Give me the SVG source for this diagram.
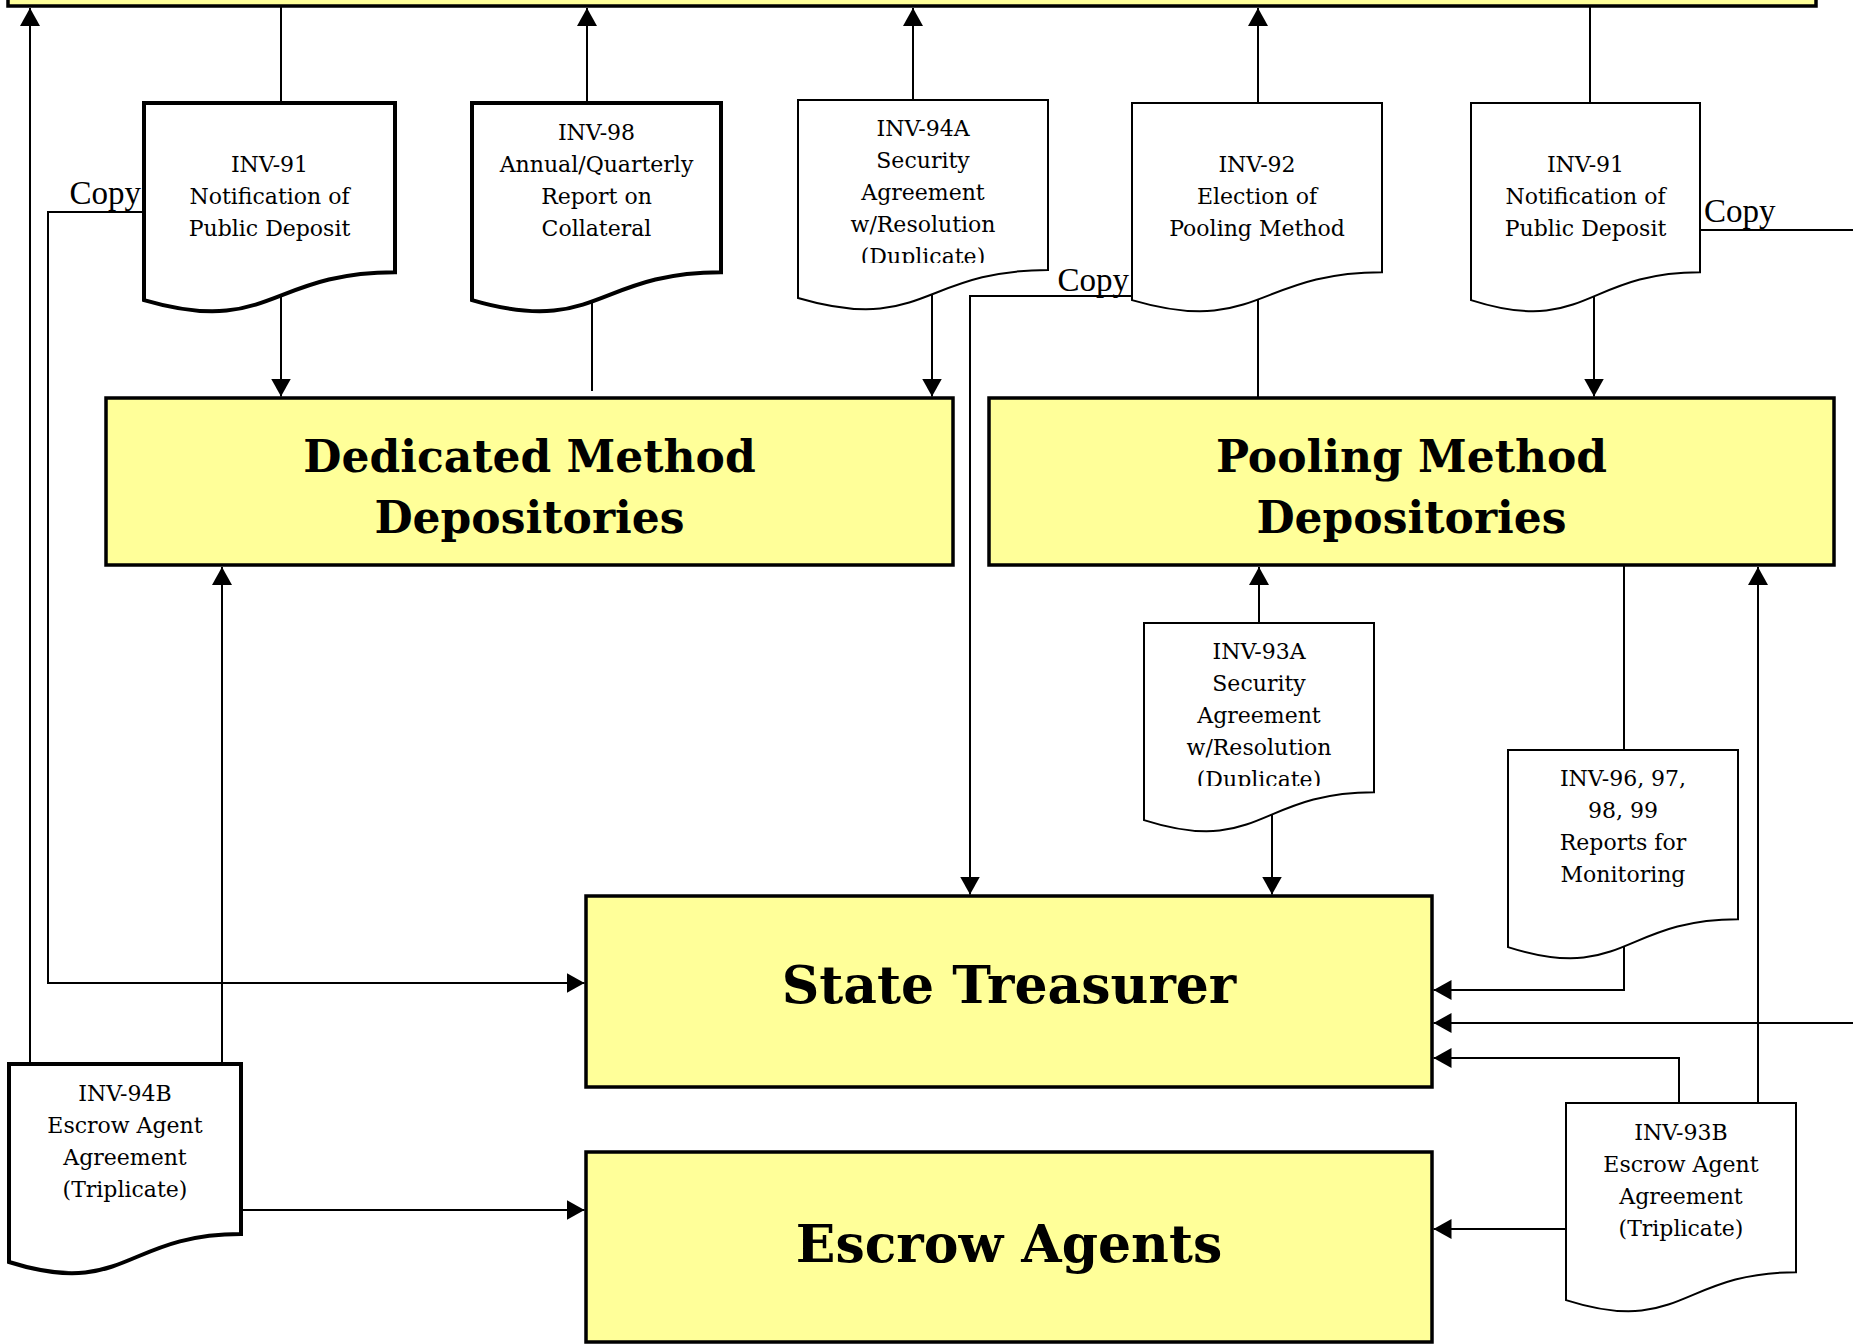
<svg xmlns="http://www.w3.org/2000/svg" width="1853" height="1344" viewBox="0 0 1853 1344">
<style>
.box{fill:#FFFF99;stroke:#000;stroke-width:3.5}
.doc{fill:#fff;stroke:#000;stroke-width:2;stroke-linejoin:miter}
.doc.thick{stroke-width:4}
.dt{font-family:"DejaVu Serif",serif;font-size:22px;text-anchor:middle;fill:#000}
.bt{font-family:"DejaVu Serif",serif;font-weight:bold;font-size:44px;text-anchor:middle;fill:#000}
.bt.big{font-size:52px}
.cp{font-family:"Liberation Serif",serif;font-size:33px;fill:#000}
.ln{fill:none;stroke:#000;stroke-width:2}
.ar{marker-end:url(#ah)}
</style>
<defs>
<marker id="ah" viewBox="0 0 18 20" refX="18" refY="10" markerWidth="18" markerHeight="20" markerUnits="userSpaceOnUse" orient="auto">
<path d="M0,0 L18,10 L0,20 Z" fill="#000"/>
</marker>
<clipPath id="clipA"><rect x="790" y="90" width="270" height="173"/></clipPath>
<clipPath id="clipB"><rect x="1136" y="613" width="246" height="173"/></clipPath>
</defs>
<rect width="1853" height="1344" fill="#fff"/>

<g id="top-box"><rect class="box" x="8" y="-60" width="1808" height="66"/></g>
<g id="dedicated"><rect class="box" x="106" y="398" width="847" height="167"/>
<text class="bt" x="529.5" y="472">Dedicated Method</text>
<text class="bt" x="529.5" y="533">Depositories</text></g>
<g id="pooling"><rect class="box" x="989" y="398" width="845" height="167"/>
<text class="bt" x="1411.5" y="472">Pooling Method</text>
<text class="bt" x="1411.5" y="533">Depositories</text></g>
<g id="treasurer"><rect class="box" x="586" y="896" width="846" height="191"/>
<text class="bt big" x="1009" y="1003">State Treasurer</text></g>
<g id="escrow"><rect class="box" x="586" y="1152" width="846" height="190"/>
<text class="bt big" x="1009" y="1262">Escrow Agents</text></g>

<g id="connectors">
<path class="ln ar" d="M30,1064 V8"/>
<path class="ln ar" d="M144,212 H48 V983 H584.5"/>
<path class="ln" d="M281,103 V6"/>
<path class="ln ar" d="M281,290 V396.5"/>
<path class="ln ar" d="M587,103 V8"/>
<path class="ln" d="M592,290 V391"/>
<path class="ln ar" d="M913,100 V8"/>
<path class="ln ar" d="M932,290 V396.5"/>
<path class="ln ar" d="M1132,296 H970 V894.5"/>
<path class="ln ar" d="M1258,103 V8"/>
<path class="ln" d="M1258,290 V398"/>
<path class="ln" d="M1590,103 V6"/>
<path class="ln ar" d="M1594,290 V396.5"/>
<path class="ln" d="M1700,230 H1853"/>
<path class="ln ar" d="M1259,623 V567"/>
<path class="ln ar" d="M1272,800 V894.5"/>
<path class="ln" d="M1624,750 V565"/>
<path class="ln ar" d="M1624,900 V990 H1433.5"/>
<path class="ln ar" d="M1853,1023 H1433.5"/>
<path class="ln ar" d="M1679,1103 V1058 H1433.5"/>
<path class="ln ar" d="M1758,1103 V567"/>
<path class="ln ar" d="M1566,1229 H1433.5"/>
<path class="ln ar" d="M222,1064 V567"/>
<path class="ln ar" d="M241,1210 H584.5"/>
<text class="cp" x="141" y="204" text-anchor="end">Copy</text>
<text class="cp" x="1129" y="291" text-anchor="end">Copy</text>
<text class="cp" x="1704" y="222">Copy</text>
</g>

<g id="inv91-left"><path class="doc thick" d="M144,103 H395 V272.2 C269.5,272.2 269.5,336.7 144,300.1 Z"/>
<text class="dt" x="269.5" y="172">INV-91</text>
<text class="dt" x="269.5" y="204">Notification of</text>
<text class="dt" x="269.5" y="236">Public Deposit</text></g>

<g id="inv98"><path class="doc thick" d="M472,103 H721 V272.2 C596.5,272.2 596.5,336.7 472,300.1 Z"/>
<text class="dt" x="596.5" y="140">INV-98</text>
<text class="dt" x="596.5" y="172">Annual/Quarterly</text>
<text class="dt" x="596.5" y="204">Report on</text>
<text class="dt" x="596.5" y="236">Collateral</text></g>

<g id="inv94a"><path class="doc" d="M798,100 H1048 V270 C923,270 923,334.8 798,298 Z"/>
<g clip-path="url(#clipA)">
<text class="dt" x="923" y="136">INV-94A</text>
<text class="dt" x="923" y="168">Security</text>
<text class="dt" x="923" y="200">Agreement</text>
<text class="dt" x="923" y="232">w/Resolution</text>
<text class="dt" x="923" y="264">(Duplicate)</text></g></g>

<g id="inv92"><path class="doc" d="M1132,103 H1382 V272.2 C1257,272.2 1257,336.7 1132,300.1 Z"/>
<text class="dt" x="1257" y="172">INV-92</text>
<text class="dt" x="1257" y="204">Election of</text>
<text class="dt" x="1257" y="236">Pooling Method</text></g>

<g id="inv91-right"><path class="doc" d="M1471,103 H1700 V272.2 C1585.5,272.2 1585.5,336.7 1471,300.1 Z"/>
<text class="dt" x="1585.5" y="172">INV-91</text>
<text class="dt" x="1585.5" y="204">Notification of</text>
<text class="dt" x="1585.5" y="236">Public Deposit</text></g>

<g id="inv93a"><path class="doc" d="M1144,623 H1374 V792.2 C1259,792.2 1259,856.7 1144,820.1 Z"/>
<g clip-path="url(#clipB)">
<text class="dt" x="1259" y="659">INV-93A</text>
<text class="dt" x="1259" y="691">Security</text>
<text class="dt" x="1259" y="723">Agreement</text>
<text class="dt" x="1259" y="755">w/Resolution</text>
<text class="dt" x="1259" y="787">(Duplicate)</text></g></g>

<g id="inv96"><path class="doc" d="M1508,750 H1738 V919.2 C1623,919.2 1623,983.7 1508,947.1 Z"/>
<text class="dt" x="1623" y="786">INV-96, 97,</text>
<text class="dt" x="1623" y="818">98, 99</text>
<text class="dt" x="1623" y="850">Reports for</text>
<text class="dt" x="1623" y="882">Monitoring</text></g>

<g id="inv93b"><path class="doc" d="M1566,1103 H1796 V1272.2 C1681,1272.2 1681,1336.7 1566,1300.1 Z"/>
<text class="dt" x="1681" y="1140">INV-93B</text>
<text class="dt" x="1681" y="1172">Escrow Agent</text>
<text class="dt" x="1681" y="1204">Agreement</text>
<text class="dt" x="1681" y="1236">(Triplicate)</text></g>

<g id="inv94b"><path class="doc thick" d="M9,1064 H241 V1234 C125,1234 125,1298.8 9,1262 Z"/>
<text class="dt" x="125" y="1101">INV-94B</text>
<text class="dt" x="125" y="1133">Escrow Agent</text>
<text class="dt" x="125" y="1165">Agreement</text>
<text class="dt" x="125" y="1197">(Triplicate)</text></g>
</svg>
